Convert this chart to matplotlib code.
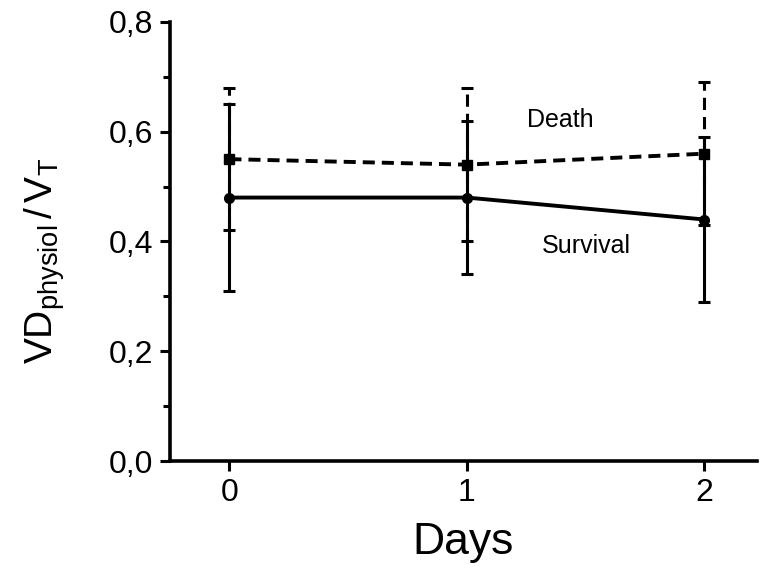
import matplotlib
matplotlib.use("Agg")
import matplotlib.pyplot as plt
from matplotlib.ticker import FuncFormatter, MultipleLocator

plt.rcParams['font.family'] = ['Liberation Sans', 'DejaVu Sans']
plt.rcParams['mathtext.fontset'] = 'custom'
plt.rcParams['mathtext.rm'] = 'Liberation Sans'
plt.rcParams['mathtext.it'] = 'Liberation Sans'

# dias de seguimiento y VD/VT por grupo (media +- desviacion)
days = [0, 1, 2]
survival_mean = [0.48, 0.48, 0.44]
survival_err = [0.17, 0.14, 0.15]
death_mean = [0.55, 0.54, 0.56]
death_err = [0.13, 0.14, 0.13]

fig = plt.figure(figsize=(7.6, 5.71), dpi=100)
ax = fig.add_axes([0.2237, 0.1926, 0.772, 0.769])

lw = 2.8
# grupo que sobrevive: linea continua con circulos
ax.errorbar(days, survival_mean, yerr=survival_err, color='black', lw=lw,
            marker='o', ms=7, elinewidth=2.2, capsize=4.5, capthick=2.2,
            zorder=3)
# grupo que fallece: linea discontinua con cuadrados
line, caps, bars = ax.errorbar(days, death_mean, yerr=death_err, color='black',
                               lw=lw, marker='s', ms=6.5, elinewidth=2.2,
                               capsize=4.5, capthick=2.2, zorder=3)
line.set_dashes((3.1, 1.8))
bars[0].set_linestyle((0, (4, 2.3)))

ax.text(1.394, 0.621, 'Death', fontsize=18, ha='center', va='center')
ax.text(1.503, 0.392, 'Survival', fontsize=18, ha='center', va='center')

ax.set_xlim(-0.25, 2.22)
ax.set_ylim(0, 0.8)
ax.set_xticks(days)
ax.yaxis.set_major_locator(MultipleLocator(0.2))
ax.yaxis.set_minor_locator(MultipleLocator(0.1))
ax.yaxis.set_major_formatter(FuncFormatter(lambda v, p: f"{v:.1f}".replace('.', ',')))

for side in ('top', 'right'):
    ax.spines[side].set_visible(False)
for side in ('left', 'bottom'):
    ax.spines[side].set_linewidth(2.6)

ax.tick_params(axis='both', which='major', direction='out', length=7,
               width=2.2, labelsize=23, pad=5)
ax.tick_params(axis='y', which='minor', direction='out', length=5, width=2.2)

ax.set_xlabel('Days', fontsize=32, labelpad=10)
ax.set_ylabel(r'$\mathrm{VD_{physiol}\,/\,V_T}$', fontsize=28)
ax.yaxis.set_label_coords(-0.175, 0.456)

fig.savefig('out.png', dpi=100)
